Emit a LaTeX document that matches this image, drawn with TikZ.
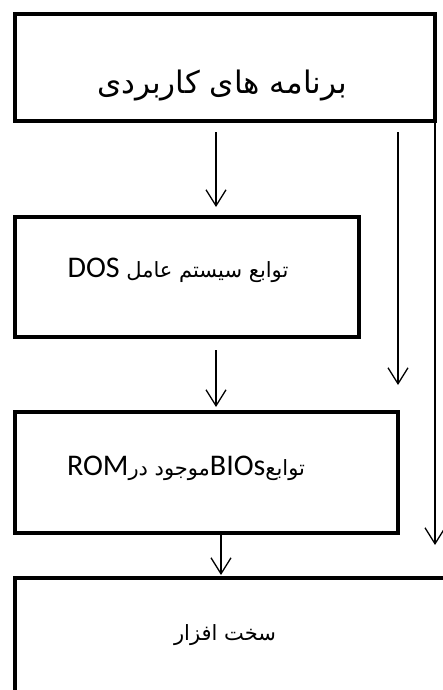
\documentclass[tikz,border=0pt]{standalone}
\usepackage{fontspec}
\usetikzlibrary{arrows.meta}
\TeXXeTstate=1
\newfontfamily\arabicfont[Script=Arabic]{DejaVu Sans}
\newfontfamily\latinfont{Carlito}
\newcommand\latinword[1]{\beginL{\latinfont\fontsize{30}{34}\selectfont #1}\endL}

\tikzset{
  layerbox/.style={draw, line width=4pt, rectangle, inner sep=0pt, outer sep=0pt},
  flow/.style={line width=1.3pt, -{Straight Barb[length=16pt, width=20pt, line width=1.3pt]}},
  label fa/.style={inner sep=0pt, font=\arabicfont\fontsize{21}{25}\selectfont}
}

\begin{document}
\begin{tikzpicture}[x=1pt, y=-1pt]
  \useasboundingbox (0,0) rectangle (443,690);
  \clip (0,0) rectangle (443,690);

  % layers
  \node[layerbox, minimum width=420pt, minimum height=107pt] (apps) at (225,67.5) {};
  \node[layerbox, minimum width=344pt, minimum height=120pt] (dos) at (187,277) {};
  \node[layerbox, minimum width=383pt, minimum height=121pt] (bios) at (206.5,472.5) {};
  \node[layerbox, minimum width=460pt, minimum height=160pt] (hw) at (245,658) {};

  % captions
  \node[label fa, font=\arabicfont\fontsize{31}{36}\selectfont] (appstext) at (222,86)
    {\beginR برنامه های کاربردی\endR};
  \node[label fa] (dostext) at (178,270)
    {\beginR توابع سیستم عامل \latinword{DOS}\endR};
  \node[label fa] (biostext) at (186,468)
    {\beginR توابع\latinword{BIOs}موجود در\latinword{ROM}\endR};
  \node[label fa] (hwtext) at (225,635)
    {\beginR سخت افزار\endR};

  % calls between layers
  \draw[flow, shorten <=11pt, shorten >=10pt]
    ([xshift=-9pt]apps.south) -- ([xshift=-9pt]apps.south |- dos.north);
  \draw[flow, shorten <=13pt, shorten >=5pt]
    ([xshift=29pt]dos.south) -- ([xshift=29pt]dos.south |- bios.north);
  \draw[flow, shorten >=3pt]
    ([xshift=14.5pt]bios.south) -- ([xshift=14.5pt]bios.south |- hw.north);
  \draw[flow, shorten <=11pt, shorten >=27pt]
    (apps.south -| bios.north east) -- (bios.north east);
  \draw[flow, shorten >=33pt]
    (apps.south east) -- (apps.south east |- hw.north);
\end{tikzpicture}
\end{document}
